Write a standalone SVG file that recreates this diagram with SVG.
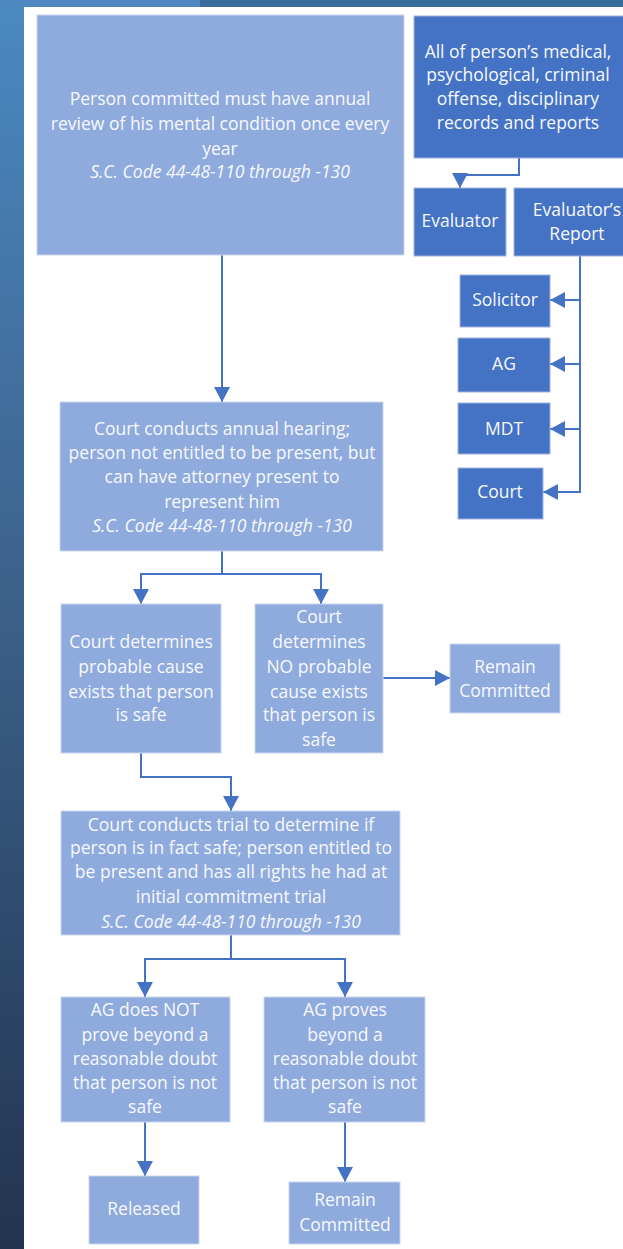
<svg xmlns="http://www.w3.org/2000/svg" width="623" height="1249" viewBox="0 0 623 1249">
<defs>
<linearGradient id="side" x1="0" y1="0" x2="0" y2="1">
<stop offset="0" stop-color="#4b89c1"/>
<stop offset="0.5" stop-color="#3b5f88"/>
<stop offset="1" stop-color="#22344f"/>
</linearGradient>
<marker id="arr" markerUnits="userSpaceOnUse" markerWidth="16" markerHeight="16" refX="15" refY="8" orient="auto">
<path d="M0,0 L15,8 L0,16 z" fill="#4472c4"/>
</marker>
<style>
.light{fill:#8faadc;stroke:#c9d6ee;stroke-width:1}
.dark{fill:#4472c4;stroke:#9db3e0;stroke-width:1}
text{font-family:"Open Sans","Noto Sans","Liberation Sans",sans-serif;font-size:17.5px;fill:#f7f9fd;text-anchor:middle}
.it{font-style:italic}
.conn{fill:none;stroke:#4472c4;stroke-width:2}
</style>
</defs>
<rect x="0" y="0" width="623" height="1249" fill="#ffffff"/>
<rect x="0" y="0" width="24" height="1249" fill="url(#side)"/>
<rect x="0" y="0" width="200" height="7" fill="#4f88c0"/>
<rect x="200" y="0" width="423" height="7" fill="#386a9c"/>

<g id="connectors">
<path class="conn" d="M222,255 V402" marker-end="url(#arr)"/>
<path class="conn" d="M519,158 V175 H460 V188" marker-end="url(#arr)"/>
<path class="conn" d="M580,256 V492 H543" marker-end="url(#arr)"/>
<path class="conn" d="M580,300 H550" marker-end="url(#arr)"/>
<path class="conn" d="M580,364 H550" marker-end="url(#arr)"/>
<path class="conn" d="M580,429 H550" marker-end="url(#arr)"/>
<path class="conn" d="M222,551 V574 H141 V604" marker-end="url(#arr)"/>
<path class="conn" d="M222,574 H321 V604" marker-end="url(#arr)"/>
<path class="conn" d="M383,678 H450" marker-end="url(#arr)"/>
<path class="conn" d="M141,753 V777 H231 V811" marker-end="url(#arr)"/>
<path class="conn" d="M231,935 V959 H145 V997" marker-end="url(#arr)"/>
<path class="conn" d="M231,959 H345 V997" marker-end="url(#arr)"/>
<path class="conn" d="M145,1122 V1176" marker-end="url(#arr)"/>
<path class="conn" d="M345,1122 V1182" marker-end="url(#arr)"/>
</g>

<g id="n-annual-review">
<rect class="light" x="37" y="15" width="367" height="240"/>
<text x="220" y="105">Person committed must have annual</text>
<text x="220" y="130">review of his mental condition once every</text>
<text x="220" y="155">year</text>
<text class="it" x="220" y="178">S.C. Code 44-48-110 through -130</text>
</g>

<g id="n-records">
<rect class="dark" x="414" y="16" width="210" height="142"/>
<text x="518" y="58">All of person’s medical,</text>
<text x="518" y="81">psychological, criminal</text>
<text x="518" y="105">offense, disciplinary</text>
<text x="518" y="129">records and reports</text>
</g>

<g id="n-evaluator">
<rect class="dark" x="414" y="188" width="92" height="68"/>
<text x="460" y="227">Evaluator</text>
</g>

<g id="n-report">
<rect class="dark" x="514" y="188" width="112" height="68"/>
<text x="577" y="216">Evaluator’s</text>
<text x="577" y="240">Report</text>
</g>

<g id="n-solicitor">
<rect class="dark" x="460" y="275" width="90" height="52"/>
<text x="505" y="306">Solicitor</text>
</g>

<g id="n-ag">
<rect class="dark" x="458" y="338" width="92" height="54"/>
<text x="504" y="370">AG</text>
</g>

<g id="n-mdt">
<rect class="dark" x="458" y="403" width="92" height="51"/>
<text x="504" y="435">MDT</text>
</g>

<g id="n-court">
<rect class="dark" x="458" y="468" width="85" height="51"/>
<text x="500" y="498">Court</text>
</g>

<g id="n-hearing">
<rect class="light" x="60" y="402" width="323" height="149"/>
<text x="222" y="435">Court conducts annual hearing;</text>
<text x="222" y="459">person not entitled to be present, but</text>
<text x="222" y="483">can have attorney present to</text>
<text x="222" y="508">represent him</text>
<text class="it" x="222" y="532">S.C. Code 44-48-110 through -130</text>
</g>

<g id="n-probable">
<rect class="light" x="61" y="604" width="160" height="149"/>
<text x="141" y="648">Court determines</text>
<text x="141" y="673">probable cause</text>
<text x="141" y="698">exists that person</text>
<text x="141" y="721">is safe</text>
</g>

<g id="n-no-probable">
<rect class="light" x="255" y="604" width="128" height="149"/>
<text x="319" y="623">Court</text>
<text x="319" y="648">determines</text>
<text x="319" y="673">NO probable</text>
<text x="319" y="698">cause exists</text>
<text x="319" y="721">that person is</text>
<text x="319" y="746">safe</text>
</g>

<g id="n-remain-1">
<rect class="light" x="450" y="644" width="110" height="69"/>
<text x="505" y="673">Remain</text>
<text x="505" y="697">Committed</text>
</g>

<g id="n-trial">
<rect class="light" x="61" y="811" width="339" height="124"/>
<text x="231" y="831">Court conducts trial to determine if</text>
<text x="231" y="854">person is in fact safe; person entitled to</text>
<text x="231" y="878">be present and has all rights he had at</text>
<text x="231" y="903">initial commitment trial</text>
<text class="it" x="231" y="928">S.C. Code 44-48-110 through -130</text>
</g>

<g id="n-not-prove">
<rect class="light" x="61" y="997" width="169" height="125"/>
<text x="145" y="1016">AG does NOT</text>
<text x="145" y="1041">prove beyond a</text>
<text x="145" y="1065">reasonable doubt</text>
<text x="145" y="1089">that person is not</text>
<text x="145" y="1113">safe</text>
</g>

<g id="n-proves">
<rect class="light" x="264" y="997" width="161" height="125"/>
<text x="345" y="1016">AG proves</text>
<text x="345" y="1041">beyond a</text>
<text x="345" y="1065">reasonable doubt</text>
<text x="345" y="1089">that person is not</text>
<text x="345" y="1113">safe</text>
</g>

<g id="n-released">
<rect class="light" x="89" y="1176" width="110" height="68"/>
<text x="144" y="1215">Released</text>
</g>

<g id="n-remain-2">
<rect class="light" x="289" y="1182" width="111" height="62"/>
<text x="345" y="1206">Remain</text>
<text x="345" y="1231">Committed</text>
</g>
</svg>
